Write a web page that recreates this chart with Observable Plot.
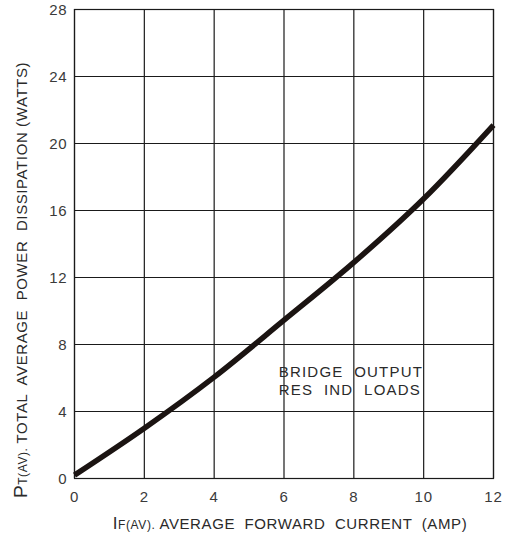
<!DOCTYPE html>
<html>
<head>
<meta charset="utf-8">
<script src="https://cdn.jsdelivr.net/npm/d3@7"></script>
<script src="https://cdn.jsdelivr.net/npm/@observablehq/plot@0.6"></script>
<style>
  html, body { margin: 0; padding: 0; background: #fff; }
  svg { display: block; }
</style>
</head>
<body>
<div id="chart"></div>
<script>
// Data
const currentAmp = [0, 2, 4, 6, 8, 10, 12];
const powerWatts = [0.2, 3.0, 6.05, 9.45, 12.9, 16.7, 21.1];
const xTicks = [0, 2, 4, 6, 8, 10, 12];
const yTicks = [0, 4, 8, 12, 16, 20, 24, 28];
const noteLines = ["BRIDGE  OUTPUT", "RES  IND  LOADS"];

const curve = currentAmp.map((x, i) => ({x, y: powerWatts[i]}));

const W = 517, H = 534;
const mL = 74, mR = 24, mT = 9, mB = 56;
const FONT = "Liberation Sans, Arial, sans-serif";

const chart = Plot.plot({
  width: W,
  height: H,
  marginLeft: mL,
  marginRight: mR,
  marginTop: mT,
  marginBottom: mB,
  style: {fontFamily: FONT, fontSize: "15px", color: "#333", background: "#fff"},
  x: {domain: [0, 12]},
  y: {domain: [0, 28]},
  marks: [
    Plot.ruleX(xTicks, {stroke: "#1a1a1a", strokeWidth: 1.2}),
    Plot.ruleY(yTicks, {stroke: "#1a1a1a", strokeWidth: 1.2}),
    Plot.frame({stroke: "#1a1a1a", strokeWidth: 1.2}),
    Plot.axisX({ticks: xTicks, tickSize: 0, tickPadding: 13, label: null, fontSize: 15, fill: "#3a3a3a"}),
    Plot.axisY({ticks: yTicks, tickSize: 0, tickPadding: 7, dy: 1, label: null, fontSize: 15, fill: "#3a3a3a"}),
    Plot.line(curve, {x: "x", y: "y", curve: "catmull-rom", stroke: "#1b1412", strokeWidth: 5.5, strokeLinecap: "butt"}),
    Plot.text([noteLines.join("\n")], {
      x: 5.85, y: 5.85, text: d => d, textAnchor: "start", lineAnchor: "middle",
      lineHeight: 1.2, fontSize: 15, fill: "#2a2a2a", fontFamily: FONT
    })
  ]
});

document.getElementById("chart").appendChild(chart);

const svg = d3.select(chart);
svg.selectAll("g[aria-label='x-axis tick label'] text, g[aria-label='y-axis tick label'] text")
  .style("letter-spacing", "0.8px");
svg.selectAll("g[aria-label='text'] text").style("white-space", "pre").style("letter-spacing", "1.2px");

// x-axis label with subscript
const xl = svg.append("text")
  .attr("x", 290).attr("y", 529)
  .attr("text-anchor", "middle")
  .attr("fill", "#2a2a2a")
  .style("font-family", FONT)
  .style("white-space", "pre")
  .style("letter-spacing", "0.6px");
xl.append("tspan").attr("font-size", 17).text("I");
xl.append("tspan").attr("font-size", 12).text("F(AV). ");
xl.append("tspan").attr("font-size", 15).text("AVERAGE  FORWARD  CURRENT  (AMP)");

// y-axis label with subscript
const yl = svg.append("text")
  .attr("transform", "translate(27,280) rotate(-90)")
  .attr("text-anchor", "middle")
  .attr("fill", "#2a2a2a")
  .style("font-family", FONT)
  .style("white-space", "pre")
  .style("letter-spacing", "0.6px");
yl.append("tspan").attr("font-size", 19).text("P");
yl.append("tspan").attr("font-size", 12).text("T(AV). ");
yl.append("tspan").attr("font-size", 15).text("TOTAL  AVERAGE  POWER  DISSIPATION (WATTS)");
</script>
</body>
</html>
